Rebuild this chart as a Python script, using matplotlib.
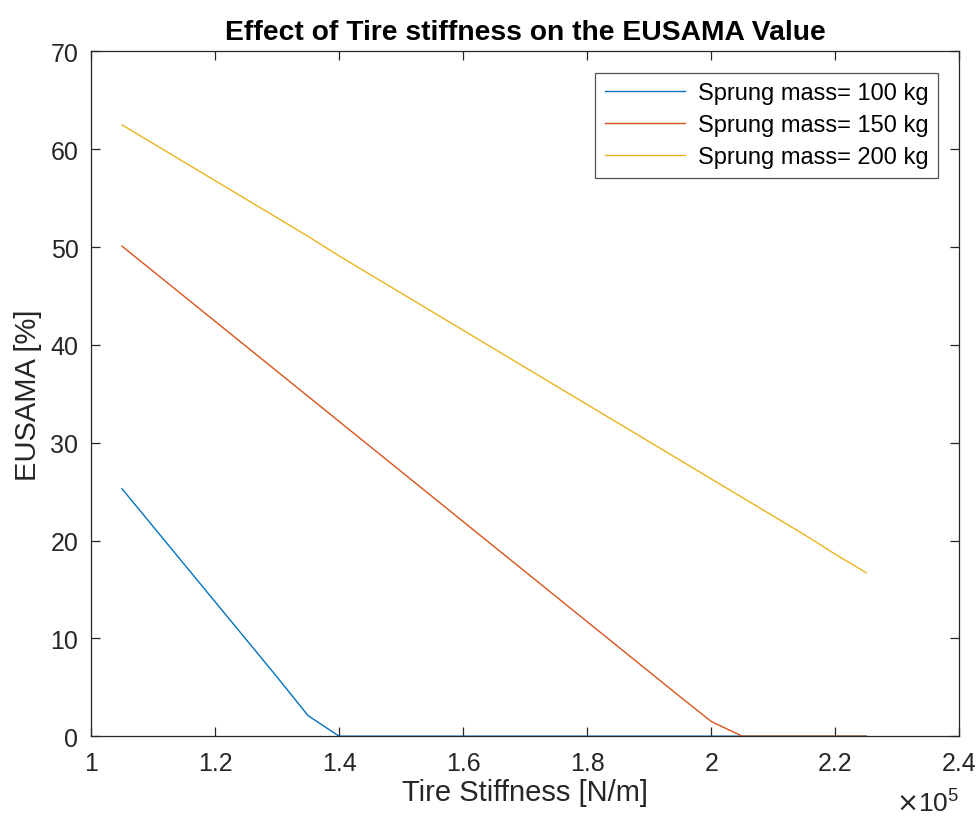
import matplotlib
matplotlib.use("Agg")
import matplotlib.pyplot as plt
from matplotlib.ticker import FuncFormatter

plt.rcParams['font.family'] = ['Liberation Sans', 'DejaVu Sans']

# Tire stiffness [N/m]
stiffness = [105000, 110000, 115000, 120000, 125000, 130000, 135000, 140000,
             145000, 150000, 155000, 160000, 165000, 170000, 175000, 180000,
             185000, 190000, 195000, 200000, 205000, 210000, 215000, 220000,
             225000]

# EUSAMA values [%] for each sprung mass
eusama_100 = [25.3, 21.45, 17.6, 13.75, 9.9, 6.05, 2.1, 0, 0, 0, 0, 0, 0, 0,
              0, 0, 0, 0, 0, 0, 0, 0, 0, 0, 0]
eusama_150 = [50.1, 47.54, 44.98, 42.42, 39.86, 37.30, 34.74, 32.18, 29.62,
              27.06, 24.50, 21.94, 19.38, 16.82, 14.26, 11.70, 9.14, 6.58,
              4.02, 1.5, 0, 0, 0, 0, 0]
eusama_200 = [62.5, 60.6, 58.7, 56.8, 54.9, 53.0, 51.1, 49.1, 47.2, 45.3,
              43.4, 41.5, 39.6, 37.7, 35.8, 33.9, 32.0, 30.1, 28.2, 26.3,
              24.4, 22.5, 20.6, 18.6, 16.7]

labels = ['Sprung mass= 100 kg', 'Sprung mass= 150 kg', 'Sprung mass= 200 kg']
colors = ['#0072BD', '#D95319', '#EDB120']

x_ticks = [100000, 120000, 140000, 160000, 180000, 200000, 220000, 240000]
y_ticks = [0, 10, 20, 30, 40, 50, 60, 70]

axis_gray = '#262626'

fig = plt.figure(figsize=(9.78, 8.2), dpi=100)
ax = fig.add_axes([0.093, 0.101, 0.888, 0.835])

for ys, lab, col in zip([eusama_100, eusama_150, eusama_200], labels, colors):
    ax.plot(stiffness, ys, color=col, lw=1.0, label=lab)

ax.set_xlim(100000, 240000)
ax.set_ylim(0, 70)
ax.set_xticks(x_ticks)
ax.set_yticks(y_ticks)
ax.xaxis.set_major_formatter(FuncFormatter(lambda v, p: f"{v / 1e5:g}"))

for s in ax.spines.values():
    s.set_color(axis_gray)
    s.set_linewidth(0.9)
ax.tick_params(direction='in', length=6.5, width=0.9, colors=axis_gray,
               labelsize=18, top=True, right=True)
ax.tick_params(axis='x', pad=11)
ax.tick_params(axis='y', pad=9)
for t in ax.get_xticklabels() + ax.get_yticklabels():
    t.set_color(axis_gray)

ax.set_xlabel('Tire Stiffness [N/m]', fontsize=21, color=axis_gray, labelpad=2)
ax.set_ylabel('EUSAMA [%]', fontsize=21, color=axis_gray, labelpad=6)
ax.set_title('Effect of Tire stiffness on the EUSAMA Value', fontsize=20.3,
             fontweight='bold', color='black', pad=9)

ax.text(1.0, -0.078, r'$\times\mathregular{10^5}$', transform=ax.transAxes,
        ha='right', va='top', fontsize=19, color=axis_gray)

leg = ax.legend(loc='upper right', fontsize=17, frameon=True, fancybox=False,
                edgecolor=axis_gray, borderaxespad=0.9, handlelength=3.4,
                handletextpad=0.55, labelspacing=0.43, borderpad=0.4)
leg.get_frame().set_linewidth(0.9)

fig.savefig('out.png', dpi=100, facecolor='white')
